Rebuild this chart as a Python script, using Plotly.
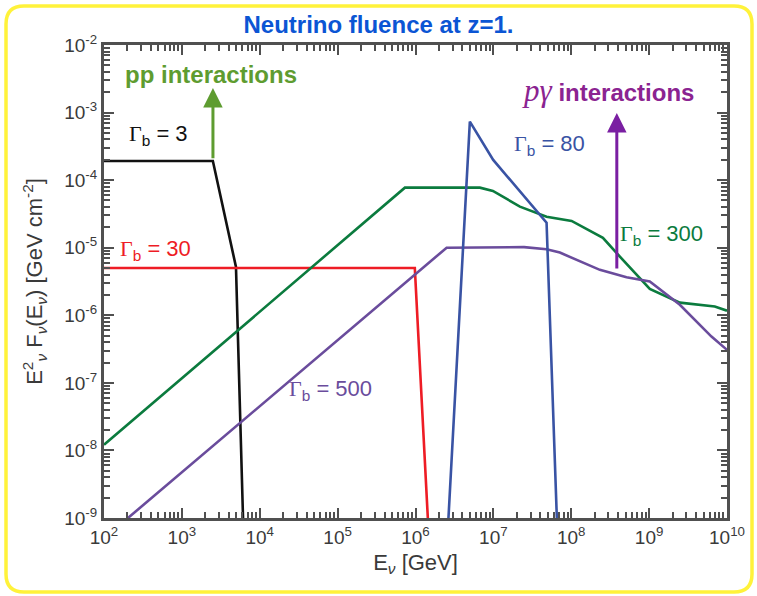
import plotly.graph_objects as go

# ---- data (E in GeV, E^2 F in GeV cm^-2) ----
g3_x = [1e2, 2.5e3, 4.95e3, 6.1e3]
g3_y = [1.92e-4, 1.92e-4, 5.2e-6, 1e-9]

g30_x = [1e2, 9.8e5, 1.44e6]
g30_y = [5.0e-6, 5.0e-6, 1e-9]

g80_x = [2.65e6, 4.99e6, 9.95e6, 4.82e7, 6.53e7]
g80_y = [1e-9, 7.33e-4, 1.99e-4, 2.35e-5, 1e-9]

g300_x = [1e2, 7.31e5, 6.71e6, 9.86e6, 2.19e7, 4.82e7, 1.01e8, 2.55e8, 4.21e8,
          1.02e9, 2.48e9, 6.97e9, 1e10]
g300_y = [1.21e-8, 7.74e-5, 7.74e-5, 6.92e-5, 4.06e-5, 2.88e-5, 2.49e-5, 1.40e-5,
          7.38e-6, 2.46e-6, 1.54e-6, 1.35e-6, 1.17e-6]

g500_x = [2.03e2, 2.51e6, 2.48e7, 4.82e7, 7.14e7, 2.33e8, 5.13e8, 1.02e9, 2.48e9,
          6.32e9, 1e10]
g500_y = [1e-9, 1.0e-5, 1.02e-5, 9.5e-6, 8.47e-6, 4.70e-6, 3.66e-6, 3.16e-6,
          1.43e-6, 4.84e-7, 3.08e-7]

x_tick_exp = [2, 3, 4, 5, 6, 7, 8, 9, 10]
y_tick_exp = [-9, -8, -7, -6, -5, -4, -3, -2]

BLACK = "#111111"
RED = "#ee1c25"
BLUE = "#3953a4"
GREEN = "#0b7b3e"
PURPLE = "#6a4c9c"
AX = "#505050"
TXT = "#3a3a3a"
FONT = "Liberation Sans, Arial, sans-serif"

fig = go.Figure()
for xs, ys, c in [(g3_x, g3_y, BLACK), (g30_x, g30_y, RED), (g300_x, g300_y, GREEN),
                  (g500_x, g500_y, PURPLE), (g80_x, g80_y, BLUE)]:
    fig.add_trace(go.Scatter(x=xs, y=ys, mode="lines",
                             line=dict(color=c, width=2.6), showlegend=False,
                             hoverinfo="skip"))

def gamma_label(val):
    return ('<span style="font-family:Liberation Serif">Γ</span>'
            '<sub>b</sub> = ' + val)

labels = [
    ("3", BLACK, 2.295, -3.33),
    ("30", RED, 2.18, -5.03),
    ("80", BLUE, 7.237, -3.48),
    ("300", GREEN, 8.598, -4.81),
    ("500", PURPLE, 4.349, -7.10),
]
for val, c, lx, ly in labels:
    fig.add_annotation(x=lx, y=ly, xref="x", yref="y", text=gamma_label(val),
                       showarrow=False, xanchor="left", yanchor="middle",
                       font=dict(color=c, size=22, family=FONT))

fig.add_annotation(x=2.244, y=-2.43, xref="x", yref="y", text="<b>pp interactions</b>",
                   showarrow=False, xanchor="left", yanchor="middle",
                   font=dict(color="#5e9c30", size=24, family=FONT))
fig.add_annotation(x=7.34, y=-2.67, xref="x", yref="y",
                   text='<span style="font-family:Liberation Serif;font-size:31px"><i>pγ</i></span> <b>interactions</b>',
                   showarrow=False, xanchor="left", yanchor="middle",
                   font=dict(color="#8b2391", size=24, family=FONT))

# arrows
fig.add_annotation(x=3.399, y=-2.636, ax=3.399, ay=-3.70, xref="x", yref="y",
                   axref="x", ayref="y", text="", showarrow=True, arrowhead=2,
                   arrowsize=1.3, arrowwidth=3, arrowcolor="#5e9c30")
fig.add_annotation(x=8.585, y=-3.006, ax=8.585, ay=-5.33, xref="x", yref="y",
                   axref="x", ayref="y", text="", showarrow=True, arrowhead=2,
                   arrowsize=1.3, arrowwidth=3, arrowcolor="#7a1fa2")

# yellow rounded border (paper coords)
L, R, T, B = 104, 727, 45, 518
W, H = R - L, B - T
def px(x):
    return (x - L) / W
def py(y):
    return (B - y) / H
x0, x1, y0, y1, r = 6, 752, 6, 592, 18
path = (f"M {px(x0 + r)} {py(y0)} L {px(x1 - r)} {py(y0)} "
        f"Q {px(x1)} {py(y0)} {px(x1)} {py(y0 + r)} "
        f"L {px(x1)} {py(y1 - r)} Q {px(x1)} {py(y1)} {px(x1 - r)} {py(y1)} "
        f"L {px(x0 + r)} {py(y1)} Q {px(x0)} {py(y1)} {px(x0)} {py(y1 - r)} "
        f"L {px(x0)} {py(y0 + r)} Q {px(x0)} {py(y0)} {px(x0 + r)} {py(y0)} Z")
fig.add_shape(type="path", path=path, xref="paper", yref="paper",
              line=dict(color="#fff23a", width=3.5), layer="above")

axis_common = dict(type="log", showgrid=False, zeroline=False, showline=True,
                   linecolor=AX, linewidth=3, mirror="allticks", ticks="inside",
                   ticklen=10, tickwidth=2, tickcolor=AX,
                   minor=dict(ticks="inside", ticklen=6, tickwidth=1.5,
                              tickcolor=AX, dtick="D1", showgrid=False),
                   tickfont=dict(size=19, color=TXT, family=FONT))

fig.update_xaxes(**axis_common, range=[2, 10], tickvals=[10 ** e for e in x_tick_exp],
                 ticktext=[f"10<sup>{e}</sup>" for e in x_tick_exp],
                 title=dict(text="E<sub><i>ν</i></sub> [GeV]", standoff=8,
                            font=dict(size=22, color=TXT, family=FONT)))
fig.update_yaxes(**axis_common, range=[-9, -2], tickvals=[10 ** e for e in y_tick_exp],
                 ticktext=[f"10<sup>{e}</sup>" for e in y_tick_exp],
                 title=dict(text="E<sup>2</sup><sub><i>ν</i></sub> F<sub><i>ν</i></sub>(E<sub><i>ν</i></sub>) [GeV cm<sup>-2</sup>]",
                            standoff=16, font=dict(size=22, color=TXT, family=FONT)))

fig.update_layout(
    width=757, height=596,
    margin=dict(l=L, r=757 - R, t=T, b=596 - B),
    paper_bgcolor="white", plot_bgcolor="white",
    title=dict(text="<b>Neutrino fluence at z=1.</b>", x=0.5, xanchor="center",
               y=1 - 25 / 596, yanchor="middle",
               font=dict(size=24, color="#0b55d4", family=FONT)),
)

fig.write_html("out.html", config={"displayModeBar": False},
               post_script="document.body.style.margin='0';document.body.style.overflow='hidden';")
